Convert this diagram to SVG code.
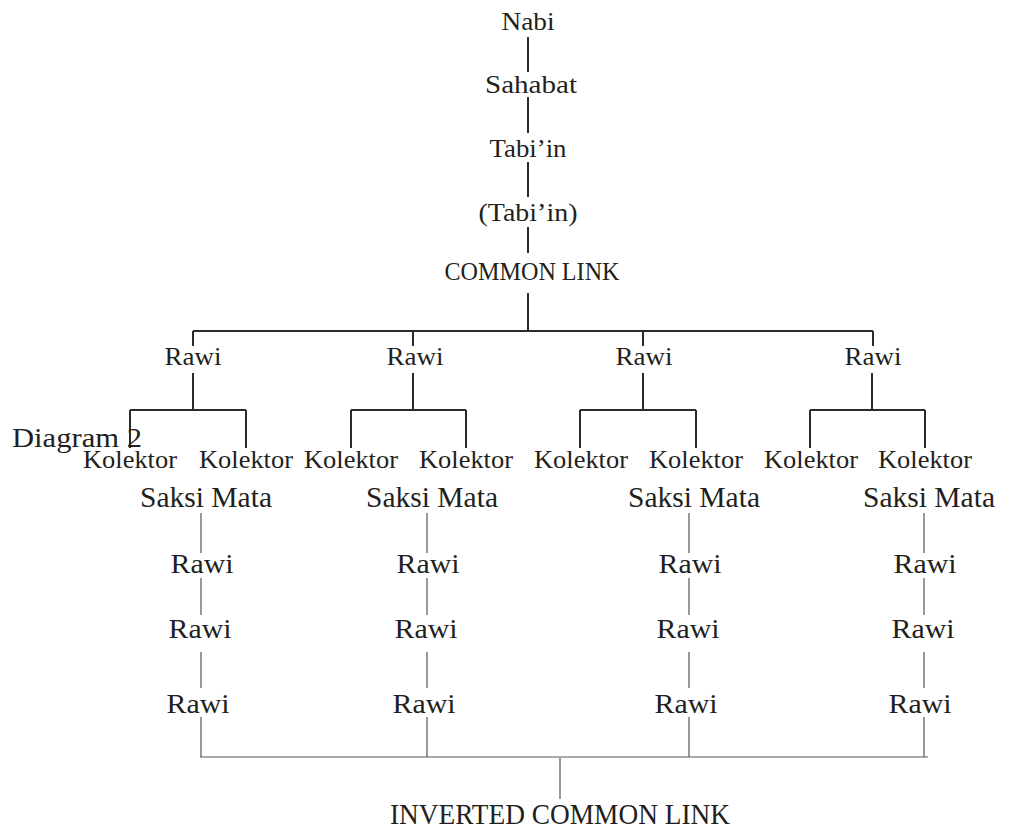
<svg xmlns="http://www.w3.org/2000/svg" width="1011" height="828" viewBox="0 0 1011 828">
<style>
text{font-family:"Liberation Serif","Times New Roman",serif;fill:#231f20;text-anchor:middle}
.t{font-size:26px}
.k{font-size:25px}
.s{font-size:29px}
.r{font-size:28px}
.d{font-size:28px;text-anchor:start}
.i{font-size:30px}
.up{stroke:#2b2b2b;stroke-width:2;fill:none}
.lo{stroke:#555;stroke-width:1.2;fill:none}
</style>
<rect width="1011" height="828" fill="#fff"/>
<g id="connectors">
<path class="up" d="M528 37V72M528 97V133M528 162V197M528 227V253M528 293V332M193 331H873M193 331V346M413 331V346M643 331V346M873 331V346"/>
<path class="up" d="M193 373V410M130 410H246M130 410V448M246 410V448"/>
<path class="up" d="M413 373V410M351 410H466M351 410V448M466 410V448"/>
<path class="up" d="M643 373V410M580 410H696M580 410V448M696 410V448"/>
<path class="up" d="M872 373V410M810 410H925M810 410V448M925 410V448"/>
<path class="lo" d="M201 513V553M201 578V615M201 652V688M201 717V757"/>
<path class="lo" d="M427 513V553M427 578V615M427 652V688M427 717V757"/>
<path class="lo" d="M689 513V553M689 578V615M689 652V688M689 717V757"/>
<path class="lo" d="M924 513V553M924 578V615M924 652V688M924 717V757"/>
<path class="lo" d="M200 757H928M560 758V799"/>
</g>
<g id="nabi"><text class="t" x="528" y="30" textLength="53" lengthAdjust="spacingAndGlyphs">Nabi</text></g>
<g id="sahabat"><text class="t" x="531" y="93" textLength="92" lengthAdjust="spacingAndGlyphs">Sahabat</text></g>
<g id="tabiin"><text class="t" x="528" y="157" textLength="77" lengthAdjust="spacingAndGlyphs">Tabi’in</text></g>
<g id="tabiin2"><text class="t" x="528" y="221" textLength="99" lengthAdjust="spacingAndGlyphs">(Tabi’in)</text></g>
<g id="common-link"><text class="t" x="532" y="280" textLength="175" lengthAdjust="spacingAndGlyphs">COMMON LINK</text></g>
<g id="rawi-a"><text class="t" x="193" y="365" textLength="57" lengthAdjust="spacingAndGlyphs">Rawi</text></g>
<g id="rawi-b"><text class="t" x="415" y="365" textLength="57" lengthAdjust="spacingAndGlyphs">Rawi</text></g>
<g id="rawi-c"><text class="t" x="644" y="365" textLength="57" lengthAdjust="spacingAndGlyphs">Rawi</text></g>
<g id="rawi-d"><text class="t" x="873" y="365" textLength="57" lengthAdjust="spacingAndGlyphs">Rawi</text></g>
<g id="diagram-label"><text class="d" x="12" y="447" textLength="130" lengthAdjust="spacingAndGlyphs">Diagram 2</text></g>
<g id="kolektor-1"><text class="k" x="130" y="468" textLength="94" lengthAdjust="spacingAndGlyphs">Kolektor</text></g>
<g id="kolektor-2"><text class="k" x="246" y="468" textLength="94" lengthAdjust="spacingAndGlyphs">Kolektor</text></g>
<g id="kolektor-3"><text class="k" x="351" y="468" textLength="94" lengthAdjust="spacingAndGlyphs">Kolektor</text></g>
<g id="kolektor-4"><text class="k" x="466" y="468" textLength="94" lengthAdjust="spacingAndGlyphs">Kolektor</text></g>
<g id="kolektor-5"><text class="k" x="581" y="468" textLength="94" lengthAdjust="spacingAndGlyphs">Kolektor</text></g>
<g id="kolektor-6"><text class="k" x="696" y="468" textLength="94" lengthAdjust="spacingAndGlyphs">Kolektor</text></g>
<g id="kolektor-7"><text class="k" x="811" y="468" textLength="94" lengthAdjust="spacingAndGlyphs">Kolektor</text></g>
<g id="kolektor-8"><text class="k" x="925" y="468" textLength="94" lengthAdjust="spacingAndGlyphs">Kolektor</text></g>
<g id="saksi-1"><text class="s" x="206" y="507" textLength="132" lengthAdjust="spacingAndGlyphs">Saksi Mata</text></g>
<g id="saksi-2"><text class="s" x="432" y="507" textLength="132" lengthAdjust="spacingAndGlyphs">Saksi Mata</text></g>
<g id="saksi-3"><text class="s" x="694" y="507" textLength="132" lengthAdjust="spacingAndGlyphs">Saksi Mata</text></g>
<g id="saksi-4"><text class="s" x="929" y="507" textLength="132" lengthAdjust="spacingAndGlyphs">Saksi Mata</text></g>
<g id="rawi-1-1"><text class="r" x="202" y="573" textLength="63" lengthAdjust="spacingAndGlyphs">Rawi</text></g>
<g id="rawi-1-2"><text class="r" x="200" y="638" textLength="63" lengthAdjust="spacingAndGlyphs">Rawi</text></g>
<g id="rawi-1-3"><text class="r" x="198" y="713" textLength="63" lengthAdjust="spacingAndGlyphs">Rawi</text></g>
<g id="rawi-2-1"><text class="r" x="428" y="573" textLength="63" lengthAdjust="spacingAndGlyphs">Rawi</text></g>
<g id="rawi-2-2"><text class="r" x="426" y="638" textLength="63" lengthAdjust="spacingAndGlyphs">Rawi</text></g>
<g id="rawi-2-3"><text class="r" x="424" y="713" textLength="63" lengthAdjust="spacingAndGlyphs">Rawi</text></g>
<g id="rawi-3-1"><text class="r" x="690" y="573" textLength="63" lengthAdjust="spacingAndGlyphs">Rawi</text></g>
<g id="rawi-3-2"><text class="r" x="688" y="638" textLength="63" lengthAdjust="spacingAndGlyphs">Rawi</text></g>
<g id="rawi-3-3"><text class="r" x="686" y="713" textLength="63" lengthAdjust="spacingAndGlyphs">Rawi</text></g>
<g id="rawi-4-1"><text class="r" x="925" y="573" textLength="63" lengthAdjust="spacingAndGlyphs">Rawi</text></g>
<g id="rawi-4-2"><text class="r" x="923" y="638" textLength="63" lengthAdjust="spacingAndGlyphs">Rawi</text></g>
<g id="rawi-4-3"><text class="r" x="920" y="713" textLength="63" lengthAdjust="spacingAndGlyphs">Rawi</text></g>
<g id="inverted-common-link"><text class="i" x="560" y="824" textLength="340" lengthAdjust="spacingAndGlyphs">INVERTED COMMON LINK</text></g>
</svg>
